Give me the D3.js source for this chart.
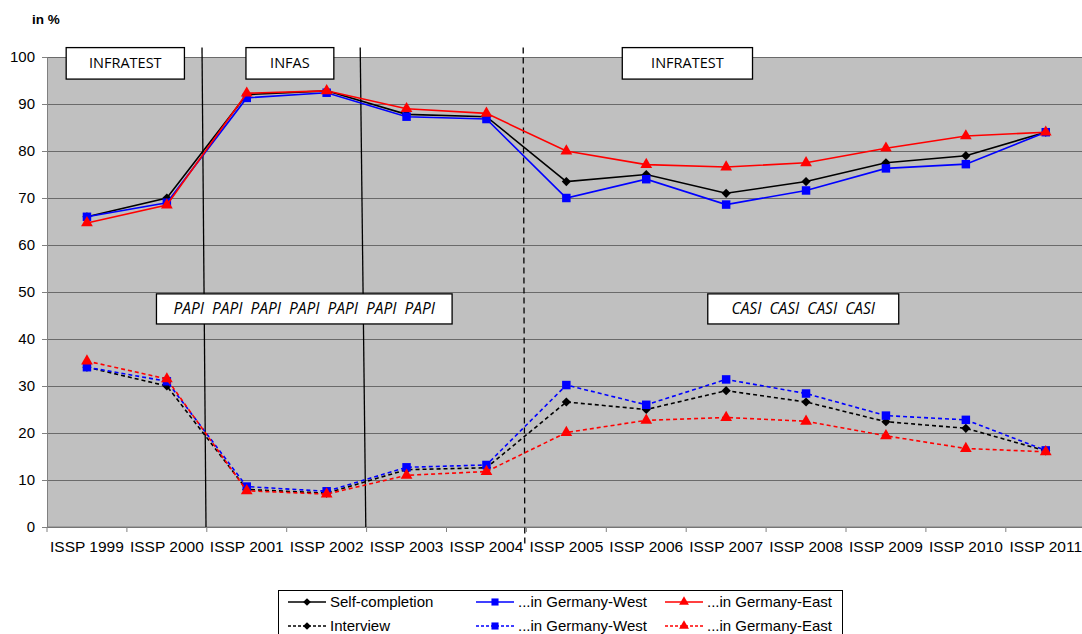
<!DOCTYPE html>
<html>
<head>
<meta charset="utf-8">
<script src="https://cdn.jsdelivr.net/npm/d3@7"></script>
<style>
  body { margin: 0; background: #fff; }
  svg { display: block; font-family: "Liberation Sans", Arial, sans-serif; }
  .box text { font-family: "Open Sans", "Noto Sans", sans-serif; }
</style>
</head>
<body>
<div class="chart"></div>
<script>
const categories = ["ISSP 1999", "ISSP 2000", "ISSP 2001", "ISSP 2002", "ISSP 2003", "ISSP 2004",
  "ISSP 2005", "ISSP 2006", "ISSP 2007", "ISSP 2008", "ISSP 2009", "ISSP 2010", "ISSP 2011"]
const yTicks = [0, 10, 20, 30, 40, 50, 60, 70, 80, 90, 100]

// self-completion (solid)
const selfAll  = [66, 70, 92, 92.8, 87.8, 87.3, 73.5, 75, 71, 73.5, 77.5, 79, 84]
const selfWest = [66, 69, 91.3, 92.4, 87.3, 86.8, 70, 74, 68.6, 71.6, 76.3, 77.2, 84]
const selfEast = [64.7, 68.5, 92.3, 92.8, 89, 88, 80, 77.1, 76.6, 77.5, 80.6, 83.2, 84]
// interview (dashed)
const intAll  = [34, 30, 8, 7.2, 12.2, 12.6, 26.6, 25, 29, 26.6, 22.4, 21, 16.2]
const intWest = [34, 31, 8.6, 7.6, 12.7, 13.2, 30.2, 26, 31.4, 28.4, 23.7, 22.8, 16.3]
const intEast = [35.3, 31.5, 7.7, 7, 11, 11.8, 20.1, 22.7, 23.3, 22.5, 19.4, 16.7, 16]

// wide diamond like the spreadsheet marker
const symbolRhomb = {
  draw(ctx, size) {
    const r = Math.sqrt(size / 2)
    ctx.moveTo(0, -r); ctx.lineTo(r, 0); ctx.lineTo(0, r); ctx.lineTo(-r, 0); ctx.closePath()
  }
}

const series = [
  { name: "Self-completion",      values: selfAll,  color: "#000000", symbol: symbolRhomb,       size: 42, dash: null },
  { name: "...in Germany-West",   values: selfWest, color: "#0000ff", symbol: d3.symbolSquare,   size: 72, dash: null },
  { name: "...in Germany-East",   values: selfEast, color: "#ff0000", symbol: d3.symbolTriangle, size: 60, dash: null },
  { name: "Interview",            values: intAll,   color: "#000000", symbol: symbolRhomb,       size: 42, dash: "4,3" },
  { name: "...in Germany-West",   values: intWest,  color: "#0000ff", symbol: d3.symbolSquare,   size: 72, dash: "4,3" },
  { name: "...in Germany-East",   values: intEast,  color: "#ff0000", symbol: d3.symbolTriangle, size: 60, dash: "4,3" }
]

// institute / mode labels: band range (in category units) and value range
const labelBoxes = [
  { text: "INFRATEST", x0: 0.24, x1: 1.72, top: 102, bottom: 95.3, italic: false },
  { text: "INFAS",     x0: 2.49, x1: 3.59, top: 102, bottom: 95.3, italic: false },
  { text: "INFRATEST", x0: 7.20, x1: 8.83, top: 102, bottom: 95.3, italic: false },
  { text: "PAPI  PAPI  PAPI  PAPI  PAPI  PAPI  PAPI", x0: 1.37, x1: 5.07, top: 49.6, bottom: 43.2, italic: true },
  { text: "CASI  CASI  CASI  CASI", x0: 8.27, x1: 10.66, top: 49.6, bottom: 43.2, italic: true }
]
// separators between survey periods
const separators = [
  { x0: 1.94, x1: 1.99, top: 102, bottom: 0, dash: null },
  { x0: 3.92, x1: 3.99, top: 102, bottom: 0, dash: null },
  { x0: 5.96, x1: 5.98, top: 102, bottom: -3.8, dash: "6,4" }
]

const W = 1082, H = 634
const svg = d3.select(".chart").append("svg").attr("width", W).attr("height", H)

const x = d3.scaleBand().domain(categories).range([47, 47 + 13 * 79.9])
const xu = d3.scaleLinear().domain([0, 13]).range(x.range())
const y = d3.scaleLinear().domain([0, 100]).range([527, 57])

// plot background
svg.append("rect")
  .attr("x", x.range()[0]).attr("y", y(100))
  .attr("width", x.range()[1] - x.range()[0]).attr("height", y(0) - y(100))
  .attr("fill", "#c0c0c0")

// gridlines
svg.append("g")
  .attr("transform", `translate(${x.range()[0]},0)`)
  .call(d3.axisLeft(y).tickValues(yTicks).tickSize(-(x.range()[1] - x.range()[0])).tickFormat(""))
  .call(g => g.select(".domain").remove())
  .call(g => g.selectAll("line").attr("stroke", "#6a6a6a").attr("stroke-width", 1))

// y axis
svg.append("g")
  .attr("transform", `translate(${x.range()[0]},0)`)
  .call(d3.axisLeft(y).tickValues(yTicks).tickSize(5).tickPadding(7))
  .call(g => g.select(".domain").attr("stroke", "#808080"))
  .call(g => g.selectAll("line").attr("stroke", "#808080"))
  .call(g => g.selectAll("text").attr("font-size", 15).attr("fill", "#000")
    .attr("font-family", "'Liberation Sans', Arial, sans-serif"))

// x axis: ticks at band boundaries
const xAxis = svg.append("g").attr("transform", `translate(0,${y(0)})`)
xAxis.append("line")
  .attr("x1", x.range()[0]).attr("x2", x.range()[1])
  .attr("stroke", "#808080")
xAxis.selectAll(".tk")
  .data(d3.range(0, 14))
  .enter().append("line")
  .attr("x1", d => xu(d)).attr("x2", d => xu(d))
  .attr("y1", 0).attr("y2", 5)
  .attr("stroke", "#808080")
xAxis.selectAll(".lbl")
  .data(categories)
  .enter().append("text")
  .attr("x", d => x(d) + x.bandwidth() / 2)
  .attr("y", 25)
  .attr("text-anchor", "middle")
  .attr("font-size", 15.5)
  .text(d => d)

// "in %" title
svg.append("text")
  .attr("x", 32).attr("y", 24)
  .attr("font-size", 13.5).attr("font-weight", "bold")
  .text("in %")

// separators
svg.append("g").selectAll("line")
  .data(separators)
  .enter().append("line")
  .attr("x1", d => xu(d.x0)).attr("x2", d => xu(d.x1))
  .attr("y1", d => y(d.top)).attr("y2", d => y(d.bottom))
  .attr("stroke", "#000").attr("stroke-width", 1.3)
  .attr("stroke-dasharray", d => d.dash)

// series lines
const cx = (d, i) => xu(i + 0.5)
const line = d3.line().x(cx).y(d => y(d))

const fam = svg.selectAll("g.family")
  .data(series)
  .enter().append("g")
  .attr("class", "family")

fam.append("path")
  .attr("d", d => line(d.values))
  .attr("fill", "none")
  .attr("stroke", d => d.color)
  .attr("stroke-width", 1.6)
  .attr("stroke-dasharray", d => d.dash)

fam.each(function (s) {
  d3.select(this).selectAll("path.dot")
    .data(s.values)
    .enter().append("path")
    .attr("class", "dot")
    .attr("d", d3.symbol().type(s.symbol).size(s.size))
    .attr("transform", (d, i) => `translate(${cx(d, i)},${y(d)})`)
    .attr("fill", s.color)
})

// label boxes
const boxes = svg.selectAll("g.box")
  .data(labelBoxes)
  .enter().append("g")
  .attr("class", "box")
boxes.append("rect")
  .attr("x", d => xu(d.x0)).attr("y", d => y(d.top))
  .attr("width", d => xu(d.x1) - xu(d.x0))
  .attr("height", d => y(d.bottom) - y(d.top))
  .attr("fill", "#fff").attr("stroke", "#000").attr("stroke-width", 1.3)
boxes.append("text")
  .attr("x", d => (xu(d.x0) + xu(d.x1)) / 2)
  .attr("y", d => (y(d.top) + y(d.bottom)) / 2 + 5)
  .attr("text-anchor", "middle")
  .attr("font-size", d => d.italic ? 15.5 : 14.5)
  .attr("font-style", d => d.italic ? "italic" : "normal")
  .style("white-space", "pre")
  .text(d => d.text)

// legend
const legend = svg.append("g").attr("class", "legend")
legend.append("rect")
  .attr("x", 278.5).attr("y", 590.5).attr("width", 564).attr("height", 50)
  .attr("fill", "#fff").attr("stroke", "#000")
const legendCols = [288, 476, 665]
const legendRows = [602, 626]
series.forEach((s, i) => {
  const lx = legendCols[i % 3], ly = legendRows[Math.floor(i / 3)]
  const item = legend.append("g").attr("transform", `translate(${lx},${ly})`)
  item.append("line")
    .attr("x1", 0).attr("x2", 38)
    .attr("stroke", s.color).attr("stroke-width", 1.6)
    .attr("stroke-dasharray", s.dash ? "3,2" : null)
  item.append("path")
    .attr("d", d3.symbol().type(s.symbol).size(s.size * 0.7))
    .attr("transform", "translate(19,0)")
    .attr("fill", s.color)
  item.append("text")
    .attr("x", 42).attr("y", 5)
    .attr("font-size", 15)
    .text(s.name)
})
</script>
</body>
</html>
